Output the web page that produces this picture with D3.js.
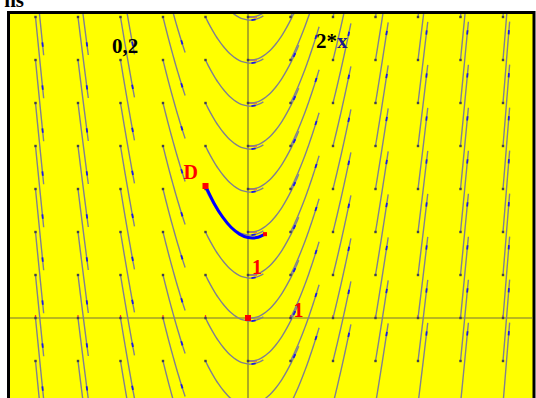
<!DOCTYPE html>
<html>
<head>
<meta charset="utf-8">
<script src="https://cdn.jsdelivr.net/npm/d3@7"></script>
<style>
  html, body { margin: 0; padding: 0; background: #fff; }
  svg { display: block; }
</style>
</head>
<body>
<div id="chart"></div>
<script>
// grid of starting points for the solution curves of y' = 2x
const gridX = [-5, -4, -3, -2, -1, 0, 1, 2, 3, 4, 5, 6];
const gridY = [-2, -1, 0, 1, 2, 3, 4, 5, 6, 7, 8];
const tickX = [-5, -4, -3, -2, -1, 1, 2, 3, 4, 5, 6];
const tickY = [-1, 1, 2, 3, 4, 5, 6, 7];
const fLabel = "2*x";
const stepLabel = "0,2";
const stepH = 0.2;
const eulerSteps = 7;
const pointD = [-1, 3.07];
const curveLength = 1.9;
const blueArc = [1.55, 1.75]; // highlighted piece of each traced curve

const slope = x => 2 * x;

const width = 536, height = 398;
const svg = d3.select("#chart").append("svg")
    .attr("width", width).attr("height", height)
    .style("font-family", "'Liberation Serif', 'DejaVu Serif', serif");

const x = d3.scaleLinear().domain([-5, 6]).range([35.5, 503]);
const y = d3.scaleLinear().domain([0, 7]).range([318, 17]);

// title fragment cut by the top edge
svg.append("text").attr("x", 24).attr("y", 7).attr("text-anchor", "end")
    .attr("font-size", 21).attr("font-weight", "bold").text("ns");

// plot area
const plot = { left: 10, top: 14, right: 533, bottom: 400 };
svg.append("clipPath").attr("id", "clip").append("rect")
    .attr("x", plot.left).attr("y", plot.top)
    .attr("width", plot.right - plot.left).attr("height", plot.bottom - plot.top);
svg.append("rect")
    .attr("x", 8.5).attr("y", 12.5).attr("width", 525.5).attr("height", 400)
    .attr("fill", "#ffff00").attr("stroke", "#000").attr("stroke-width", 3);

const g = svg.append("g").attr("clip-path", "url(#clip)");

// axes
g.append("line").attr("x1", plot.left).attr("x2", plot.right)
    .attr("y1", y(0)).attr("y2", y(0)).attr("stroke", "#77733a").attr("stroke-width", 1.2);
g.append("line").attr("x1", x(0)).attr("x2", x(0))
    .attr("y1", plot.top).attr("y2", plot.bottom).attr("stroke", "#77733a").attr("stroke-width", 1.2);

g.selectAll(".tx").data(tickX).join("line")
    .attr("x1", d => x(d)).attr("x2", d => x(d))
    .attr("y1", y(0) - 3).attr("y2", y(0))
    .attr("stroke", "#ff3030").attr("stroke-width", 1.2);
g.selectAll(".ty").data(tickY).join("line")
    .attr("x1", x(0)).attr("x2", x(0) + 9)
    .attr("y1", d => y(d)).attr("y2", d => y(d))
    .attr("stroke", "#ff3030").attr("stroke-width", 1.2);

// trace a solution rightward with Euler steps of fixed arc length
function trace(x0, y0, len, ds) {
    const pts = [{ x: x0, y: y0, s: 0 }];
    let cx = x0, cy = y0, s = 0;
    while (s < len - 1e-9) {
        const m = slope(cx);
        const dx = ds / Math.sqrt(1 + m * m);
        cx += dx; cy += m * dx; s += ds;
        pts.push({ x: cx, y: cy, s });
    }
    return pts;
}

const line = d3.line().x(d => x(d.x)).y(d => y(d.y));

const starts = [];
gridX.forEach(gx => gridY.forEach(gy => starts.push([gx, gy])));

const curves = starts.map(([gx, gy]) => trace(gx, gy, curveLength, 0.1));

g.selectAll(".sol").data(curves).join("path")
    .attr("d", line.curve(d3.curveCatmullRom)).attr("fill", "none")
    .attr("stroke", "#808090").attr("stroke-width", 1.4);

g.selectAll(".hl").data(curves.map(c => c.filter(p => p.s >= blueArc[0] - 1e-9 && p.s <= blueArc[1] + 1e-9)))
    .join("path")
    .attr("d", line).attr("fill", "none")
    .attr("stroke", "#1a1ae0").attr("stroke-width", 1.8);
line.curve(d3.curveLinear);

g.selectAll(".st").data(starts).join("rect")
    .attr("x", d => x(d[0]) - 1.2).attr("y", d => y(d[1]) - 1.2)
    .attr("width", 2.4).attr("height", 2.4).attr("fill", "#404050");

// Euler polygon from D with step h
const euler = [{ x: pointD[0], y: pointD[1] }];
for (let i = 0; i < eulerSteps; i++) {
    const p = euler[euler.length - 1];
    euler.push({ x: p.x + stepH, y: p.y + slope(p.x) * stepH });
}
g.append("path").datum(euler)
    .attr("d", line.curve(d3.curveCatmullRom))
    .attr("fill", "none").attr("stroke", "#0000ff").attr("stroke-width", 3);
line.curve(d3.curveLinear);

const last = euler[euler.length - 1];
g.append("rect").attr("x", x(last.x) - 2).attr("y", y(last.y) - 2)
    .attr("width", 4).attr("height", 4).attr("fill", "#ff0000");
g.append("rect").attr("x", x(pointD[0]) - 3).attr("y", y(pointD[1]) - 3)
    .attr("width", 6).attr("height", 6).attr("fill", "#ff0000");
g.append("rect").attr("x", x(0) - 3).attr("y", y(0) - 3)
    .attr("width", 6).attr("height", 6).attr("fill", "#ff0000");

// labels
g.append("text").attr("x", x(pointD[0]) - 22).attr("y", y(pointD[1]) - 7)
    .attr("font-size", 20).attr("font-weight", "bold").attr("fill", "#ff0000").text("D");
g.append("text").attr("x", x(0) + 4).attr("y", y(1) - 1)
    .attr("font-size", 20).attr("font-weight", "bold").attr("fill", "#ff0000").text("1");
g.append("text").attr("x", x(1) + 3).attr("y", y(0) - 1)
    .attr("font-size", 20).attr("font-weight", "bold").attr("fill", "#ff0000").text("1");

g.append("text").attr("x", 112).attr("y", 53)
    .attr("font-size", 21).attr("font-weight", "bold").attr("fill", "#000").text(stepLabel);
const ft = g.append("text").attr("x", 316).attr("y", 48)
    .attr("font-size", 21).attr("font-weight", "bold").attr("fill", "#000");
ft.append("tspan").text(fLabel.slice(0, 2));
ft.append("tspan").attr("fill", "#1a1a90").text(fLabel.slice(2));
</script>
</body>
</html>
